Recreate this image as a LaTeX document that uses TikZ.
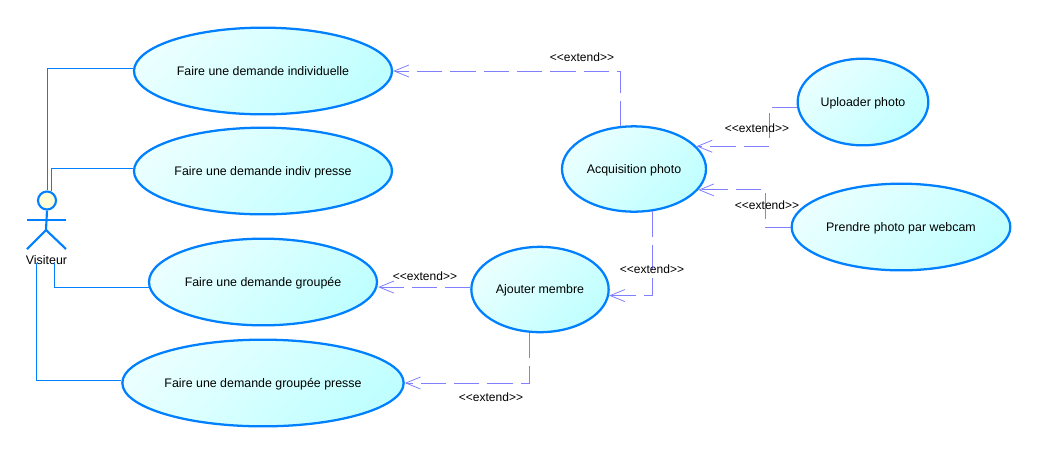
\documentclass[tikz,border=0pt]{standalone}
\usepackage{fontspec}
\setmainfont{Liberation Sans}
\usepackage{xcolor}
\usetikzlibrary{shapes,positioning,calc,arrows.meta}
\definecolor{umlblue}{HTML}{0080FF}
\definecolor{umlviolet}{HTML}{8080FF}
\definecolor{umlhead}{HTML}{FFFFD8}
\definecolor{umltop}{HTML}{EAFFFF}
\definecolor{umlbottom}{HTML}{C0FFFF}
\newcommand{\extendtxt}{<{}<extend>{}>}
\tikzset{
    usecase/.style={ellipse, draw=umlblue, line width=1.7pt, inner sep=0pt,
        shading=axis, top color=umltop, bottom color=umlbottom, shading angle=45,
        text height=6.5pt, text depth=0pt, font=\fontsize{9.3}{10}\selectfont},
    assoc/.style={draw=umlblue, line width=0.75pt},
    extendline/.style={draw=umlviolet, line width=0.75pt, dash pattern=on 19pt off 6pt,
        -{Straight Barb[length=11pt,width=9pt,line width=0.6pt]}},
    extendlabel/.style={font=\fontsize{9}{10}\selectfont, inner sep=0pt},
    actorline/.style={draw=umlblue, line width=1.6pt}
}
\begin{document}
\begin{tikzpicture}[x=0.75pt, y=-0.75pt]
    \useasboundingbox (0, 0) rectangle (1043, 455);

    % Use cases on the left
    \node [usecase, minimum width=193.5pt, minimum height=65pt] (indiv) at (263, 71) {Faire une demande individuelle};
    \node [usecase, minimum width=193.5pt, minimum height=65pt] (indivpresse) at (263, 171) {Faire une demande indiv presse};
    \node [usecase, minimum width=171pt, minimum height=65pt] (groupee) at (263, 282) {Faire une demande groupée};
    \node [usecase, minimum width=211pt, minimum height=65pt] (groupeepresse) at (263, 383) {Faire une demande groupée presse};

    % Use cases on the right
    \node [usecase, minimum width=108pt, minimum height=64pt] (acquisition) at (634, 169) {Acquisition photo};
    \node [usecase, minimum width=103pt, minimum height=64pt] (ajouter) at (540, 289.5) {Ajouter membre};
    \node [usecase, minimum width=98pt, minimum height=65pt] (uploader) at (863, 102) {Uploader photo};
    \node [usecase, minimum width=164pt, minimum height=65pt] (webcam) at (901, 227) {Prendre photo par webcam};

    % Actor
    \node [circle, draw=umlblue, line width=1.6pt, fill=umlhead, minimum size=13.5pt, inner sep=0pt] (head) at (47, 200.5) {};
    \coordinate (hip) at (46, 230);
    \draw [actorline] (head.south) -- (hip);
    \draw [actorline] (27, 220) -- (66, 220);
    \draw [actorline] (27, 249) -- (hip) -- (66, 249);
    \node [font=\fontsize{9.3}{10}\selectfont, inner sep=0pt] (visiteur) at (46.5, 260) {Visiteur};

    % Associations
    \draw [assoc] (head.north) |- (indiv.179.5);
    \draw [assoc] (head.65) |- (indivpresse.179);
    \draw [assoc] ($(visiteur.south)+(8, -2)$) |- (groupee.183);
    \draw [assoc] ($(visiteur.south)+(-10, -2)$) |- (groupeepresse.179);

    % Extend links
    \draw [extendline] (acquisition.107) |- (indiv.0.5);
    \draw [extendline] (uploader.185) -- ++(-28, 0) |- (acquisition.20);
    \draw [extendline] (webcam.west) -- ++(-25, 0) |- (acquisition.-18);
    \draw [extendline] (acquisition.-67) |- (ajouter.-5);
    \draw [extendline] (ajouter.178) -- (groupee.east |- ajouter.178);
    \draw [extendline] (ajouter.-104) |- (groupeepresse.east);

    % Extend labels
    \node [extendlabel] (lblindiv) at (582, 57) {\extendtxt};
    \node [extendlabel] (lbluploader) at (757, 128) {\extendtxt};
    \node [extendlabel] (lblwebcam) at (767, 205) {\extendtxt};
    \node [extendlabel] (lblajouter) at (652, 269) {\extendtxt};
    \node [extendlabel] (lblgroupee) at (425, 276) {\extendtxt};
    \node [extendlabel] (lblpresse) at (491, 397) {\extendtxt};
\end{tikzpicture}
\end{document}
